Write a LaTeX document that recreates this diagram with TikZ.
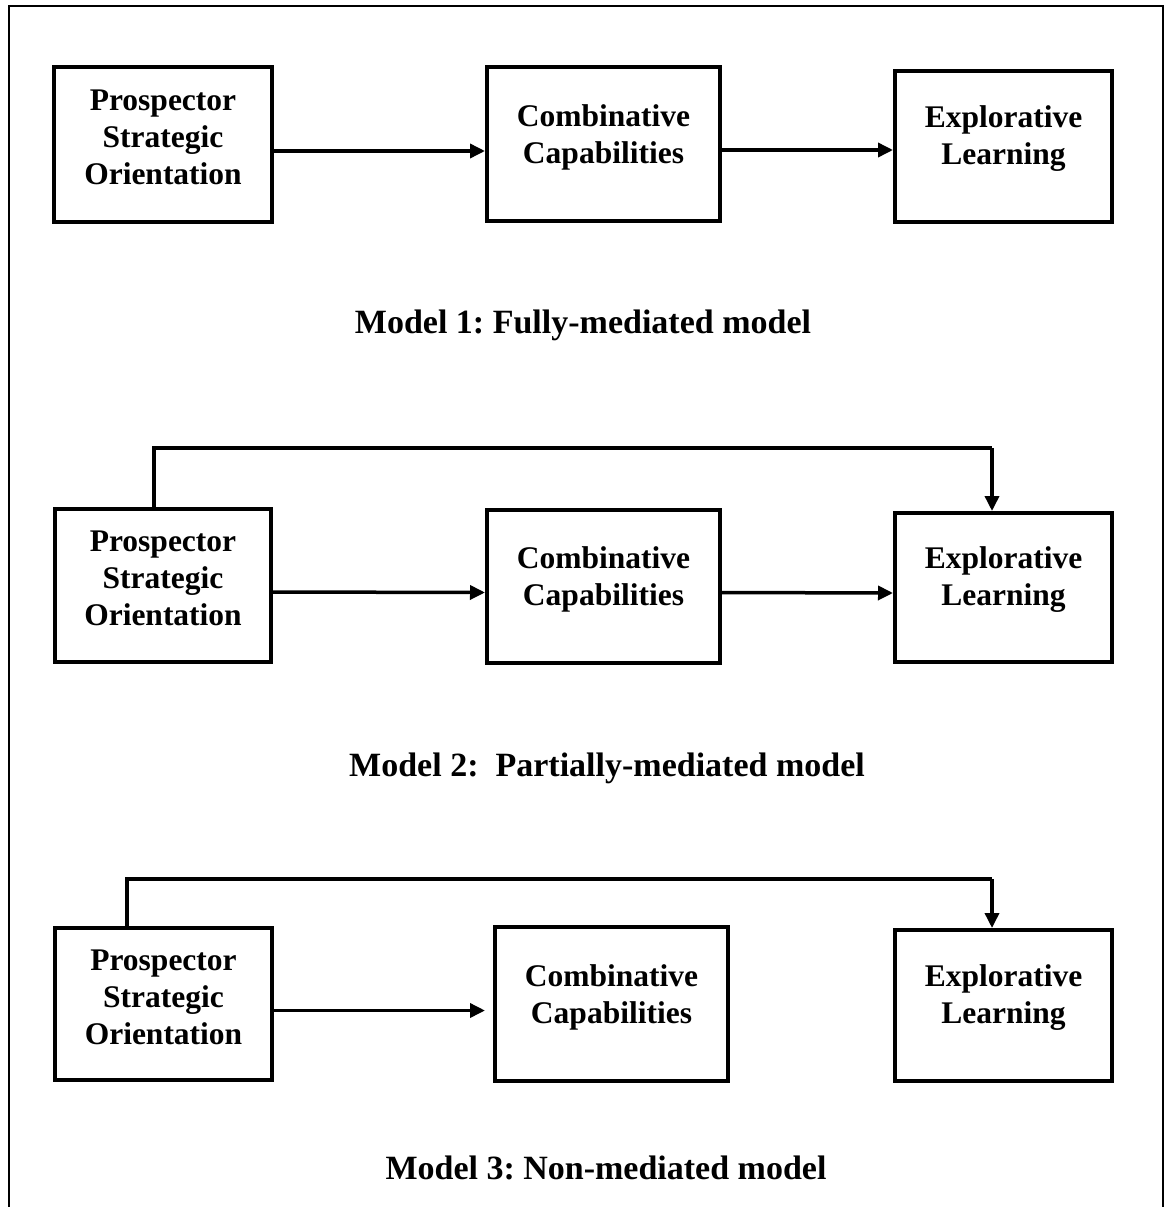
\documentclass[tikz,border=0pt]{standalone}
\usepackage{fontspec}
\setmainfont{Liberation Serif}
\usetikzlibrary{arrows.meta}
\frenchspacing
\begin{document}
\begin{tikzpicture}[x=1pt,y=-1pt,
  box/.style={draw,line width=4pt,inner sep=0pt,minimum width=#1},
  box/.default=218pt,
  lbl/.style={font=\bfseries\fontsize{31.5}{37}\selectfont,align=center,inner sep=0pt},
  ttl/.style={font=\bfseries\fontsize{34}{40}\selectfont,inner sep=0pt},
  arr/.style={line width=3.5pt,-{Triangle[length=15pt,width=14pt]}},
  conn/.style={line width=3.5pt}]
\useasboundingbox (0,0) rectangle (1166,1207);
\fill[white] (0,0) rectangle (1166,1207);
% outer frame
\draw[line width=2.2pt] (9,1210) -- (9,6) -- (1163,6) -- (1163,1210);

% ---------- Model 1
\node[box=218pt,minimum height=155pt] (A1) at (163,144.5) {};
\node[box=233pt,minimum height=154pt] (B1) at (603.5,144) {};
\node[box=217pt,minimum height=151pt] (C1) at (1003.5,146.5) {};
\node[lbl] (tA1) at (163,137) {Prospector\\Strategic\\Orientation};
\node[lbl] (tB1) at (603.5,137) {Combinative\\Capabilities};
\node[lbl] (tC1) at (1003.5,139) {Explorative\\Learning};
\draw[arr] ([yshift=-6.5pt]A1.east) -- ([yshift=-7pt]B1.west);
\draw[arr] ([yshift=-6pt]B1.east) -- ([yshift=-3.5pt]C1.west);
\node[ttl] (T1) at (583,325) {Model 1: Fully-mediated model};

% ---------- Model 2
\node[box=216pt,minimum height=153pt] (A2) at (163,585.5) {};
\node[box=233pt,minimum height=153pt] (B2) at (603.5,586.5) {};
\node[box=217pt,minimum height=149pt] (C2) at (1003.5,587.5) {};
\node[lbl] (tA2) at (163,578) {Prospector\\Strategic\\Orientation};
\node[lbl] (tB2) at (603.5,579) {Combinative\\Capabilities};
\node[lbl] (tC2) at (1003.5,580) {Explorative\\Learning};
\draw[arr] ([yshift=-6.5pt]A2.east) -- ([yshift=-6pt]B2.west);
\draw[arr] ([yshift=-6pt]B2.east) -- ([yshift=-5.5pt]C2.west);
\coordinate (k2a) at (154,448);
\coordinate (k2b) at (992,448);
\draw[conn] (A2.north -| k2a) -- (k2a) -- (k2b);
\draw[arr] (k2b) -- (k2b |- C2.north);
\node[ttl] (T2) at (607,768) {Model 2:\ \ Partially-mediated model};

% ---------- Model 3
\node[box=217pt,minimum height=152pt] (A3) at (163.5,1004) {};
\node[box=233pt,minimum height=154pt] (B3) at (611.5,1004) {};
\node[box=217pt,minimum height=151pt] (C3) at (1003.5,1005.5) {};
\node[lbl] (tA3) at (163.5,997) {Prospector\\Strategic\\Orientation};
\node[lbl] (tB3) at (611.5,997) {Combinative\\Capabilities};
\node[lbl] (tC3) at (1003.5,998) {Explorative\\Learning};
\draw[arr] ([yshift=-6.5pt]A3.east) -- ([xshift=-8pt,yshift=-6.5pt]B3.west);
\coordinate (k3a) at (127,879);
\coordinate (k3b) at (992,879);
\draw[conn] (A3.north -| k3a) -- (k3a) -- (k3b);
\draw[arr] (k3b) -- (k3b |- C3.north);
\node[ttl] (T3) at (606,1168) {Model 3: Non-mediated model};
\end{tikzpicture}
\end{document}
